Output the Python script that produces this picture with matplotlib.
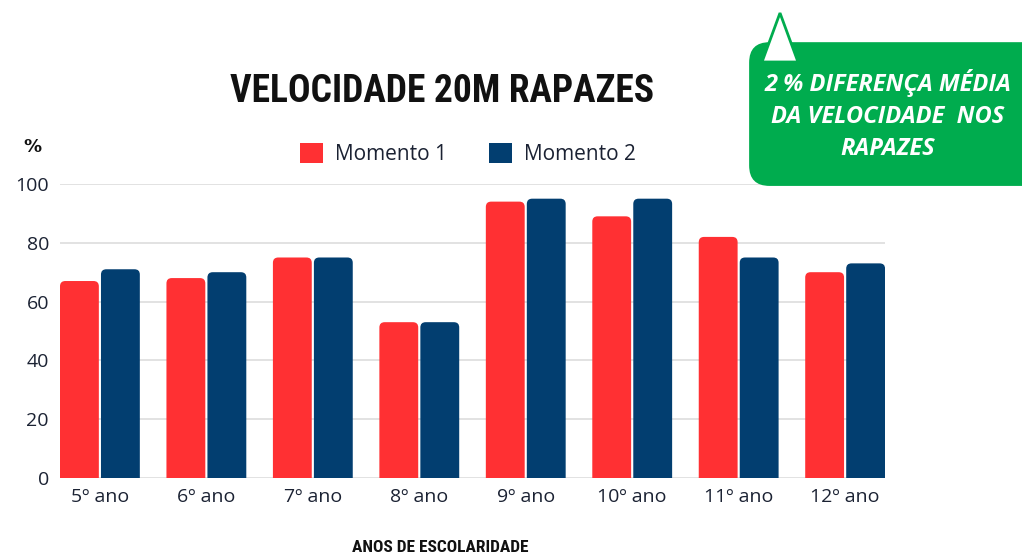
import numpy as np
import matplotlib.pyplot as plt
from matplotlib.patches import FancyBboxPatch, Polygon

# =========================
# Data
# =========================
anos = ["5º ano", "6º ano", "7º ano", "8º ano", "9º ano", "10º ano", "11º ano", "12º ano"]
momento1 = [67, 68, 75, 53, 94, 89, 82, 70]
momento2 = [71, 70, 75, 53, 95, 95, 75, 73]

red = "#FF3033"
navy = "#023E70"
green = "#00AC4E"
cond = ["Roboto Condensed", "Open Sans"]

# =========================
# Figure
# =========================
fig = plt.figure(figsize=(10.22, 5.55), dpi=100)
ax = fig.add_axes([0.0587, 0.1387, 0.8073, 0.5298])

x = np.arange(len(anos))
w = 0.365
gap = 0.01

for xi, v1, v2 in zip(x, momento1, momento2):
    for left, v, col in [(xi - w - gap, v1, red), (xi + gap, v2, navy)]:
        p = FancyBboxPatch((left, -5), w, v + 5,
                           boxstyle="round,pad=0,rounding_size=0.05",
                           mutation_aspect=36, facecolor=col, edgecolor="none",
                           zorder=3)
        ax.add_patch(p)

ax.set_xlim(-0.375, len(anos) - 1 + 0.375)
ax.set_ylim(0, 100)
ax.set_yticks([0, 20, 40, 60, 80, 100])
ax.set_xticks(x)
ax.set_xticklabels(anos)
ax.grid(axis="y", color="#DDDDDD", linewidth=1.2, zorder=0)
for s in ax.spines.values():
    s.set_visible(False)
ax.tick_params(length=0, labelsize=14, colors="#1B2233", pad=8)
ax.tick_params(axis="x", pad=7)
for lab in ax.get_xticklabels() + ax.get_yticklabels():
    lab.set_family("Open Sans")
ax.set_axisbelow(True)

# legend
ax.bar([0], [0], color=red, label="Momento 1")
ax.bar([0], [0], color=navy, label="Momento 2")
leg = fig.legend(loc="center", bbox_to_anchor=(0.458, 0.722), ncol=2, frameon=False,
                 prop={"family": "Open Sans", "size": 15}, handlelength=1.1, handleheight=1.1,
                 columnspacing=2.0, handletextpad=0.6)
for t in leg.get_texts():
    t.set_color("#1B2233")

# texts
fig.text(0.432, 0.836, "VELOCIDADE 20M RAPAZES", ha="center", va="center",
         fontsize=27, fontweight="heavy", family=cond, color="#111111")
fig.text(0.032, 0.735, "%", ha="center", va="center", fontsize=13, fontweight="bold",
         color="#111111")
fig.text(0.431, 0.014, "ANOS DE ESCOLARIDADE", ha="center", va="center",
         fontsize=12.5, fontweight="heavy", family=cond, color="#111111")

# callout
box = FancyBboxPatch((0.733, 0.665), 0.3, 0.259, transform=fig.transFigure,
                     boxstyle="round,pad=0,rounding_size=0.02", mutation_aspect=1.84,
                     facecolor=green, edgecolor="none")
fig.patches.append(box)
tri = Polygon([[762 / 1022, 1 - 62 / 555], [780 / 1022, 1 - 13 / 555], [798 / 1022, 1 - 62 / 555]],
              closed=True, transform=fig.transFigure, facecolor="white",
              edgecolor=green, linewidth=2)
fig.patches.append(tri)
fig.text(0.869, 0.793, "2 % DIFERENÇA MÉDIA\nDA VELOCIDADE  NOS\nRAPAZES", ha="center",
         va="center", fontsize=17, fontweight="bold", style="italic", color="white",
         family="Open Sans", linespacing=1.45)

plt.savefig("out.png", dpi=100)
